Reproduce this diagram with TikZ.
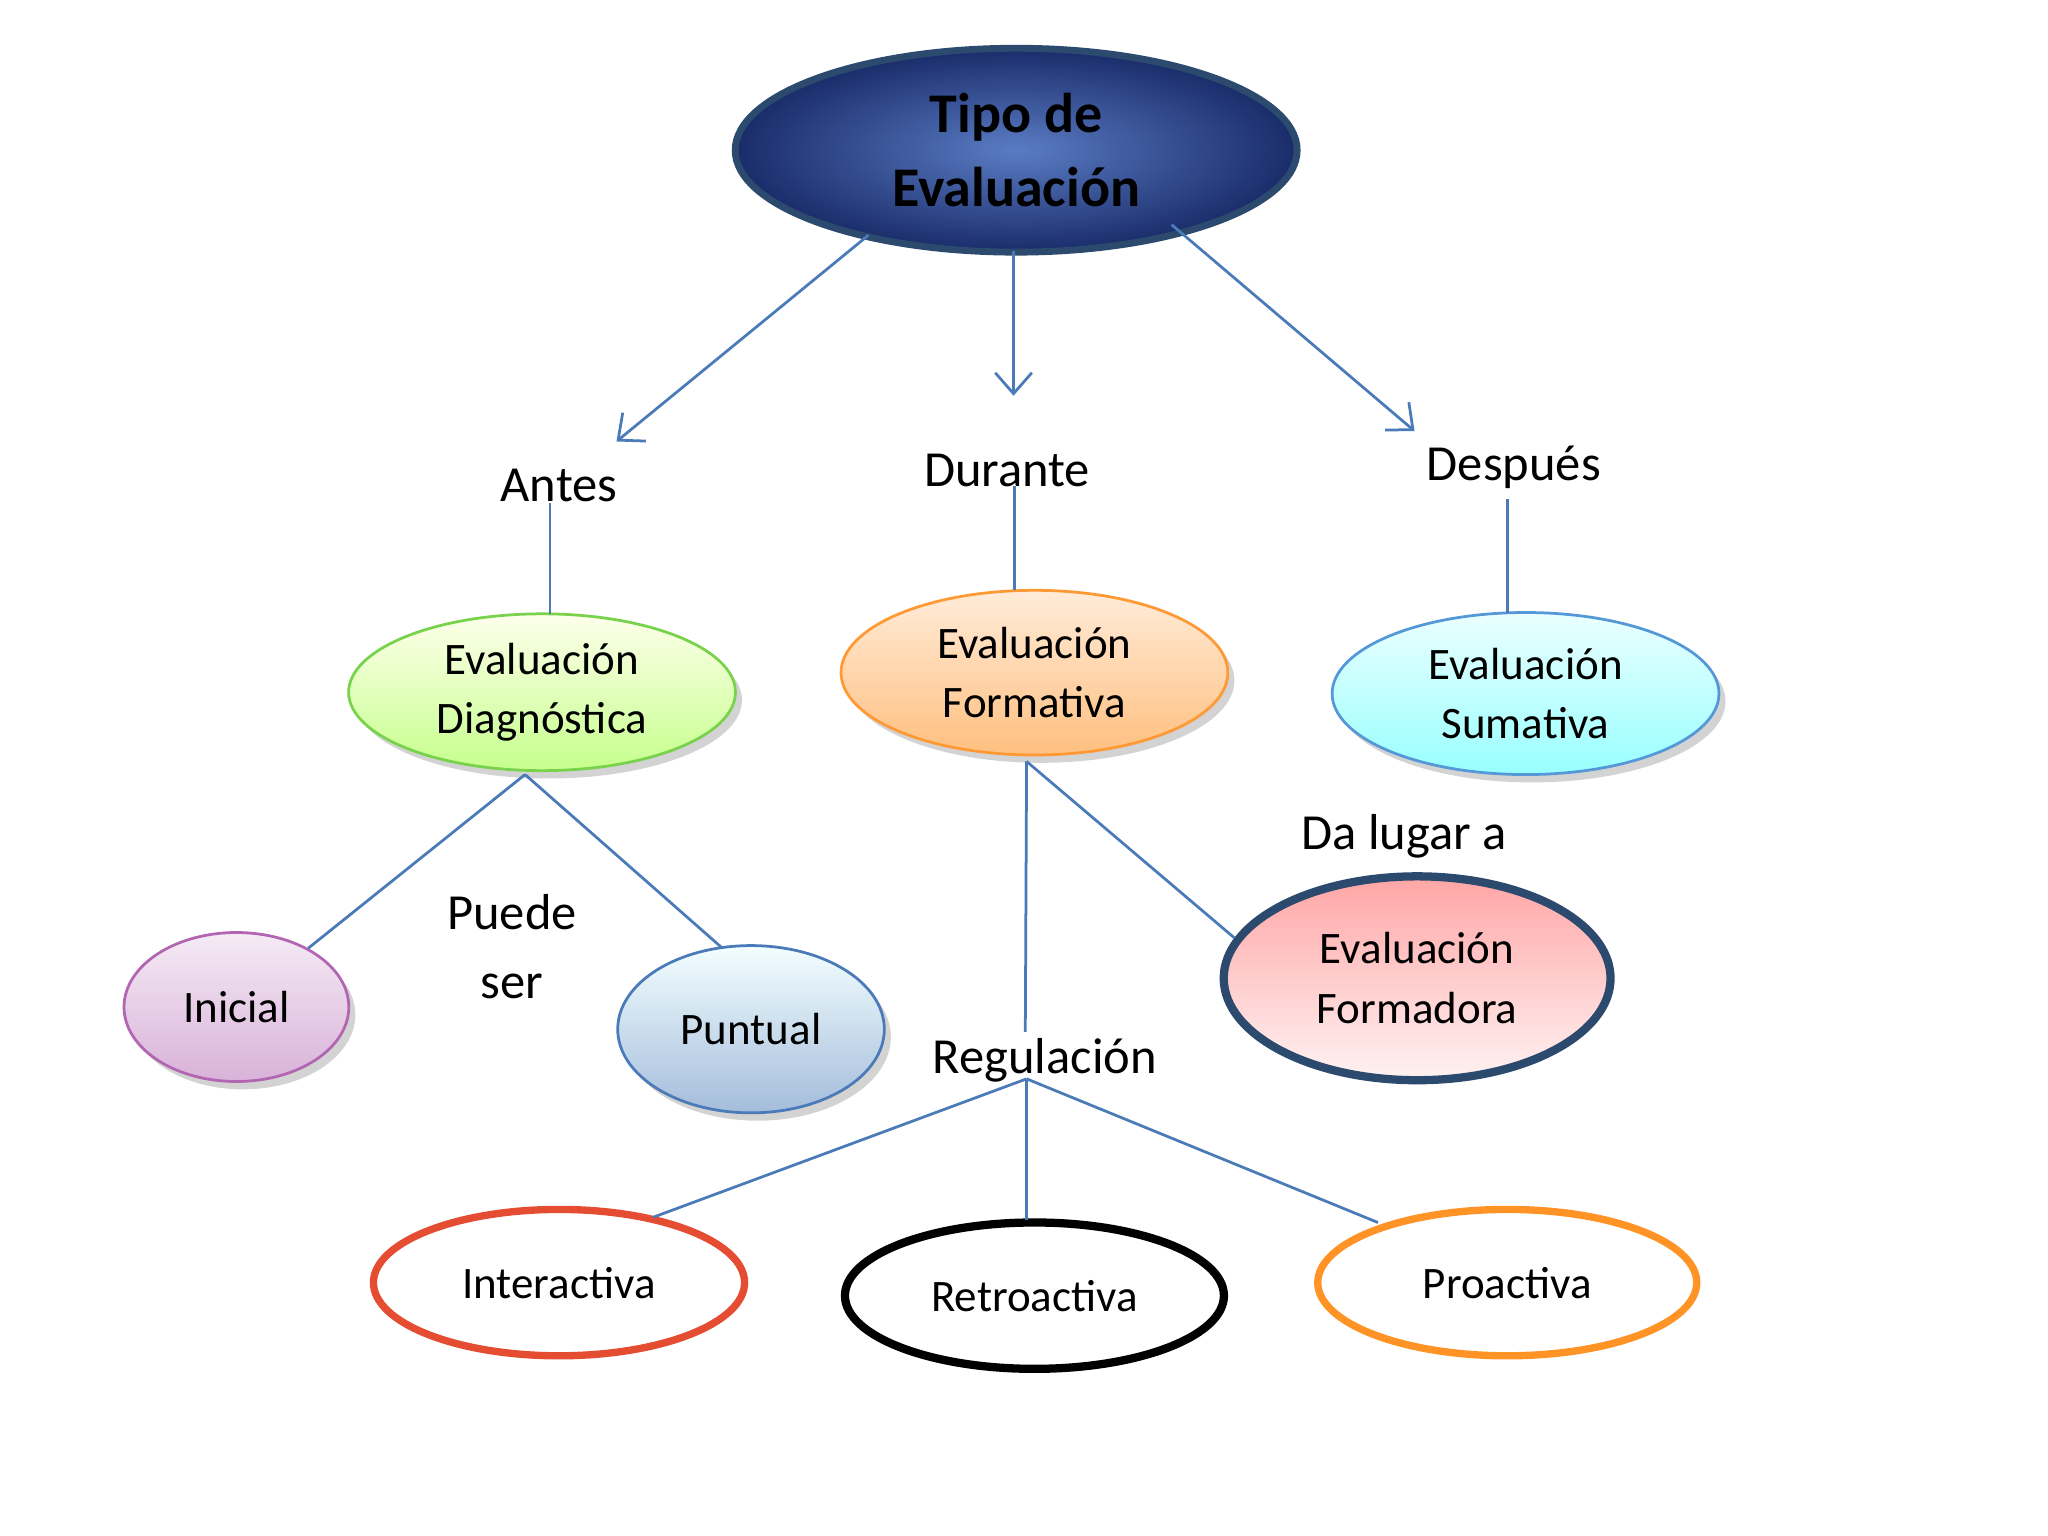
\documentclass[tikz,border=0pt]{standalone}
\usepackage{fontspec}
\setmainfont{Carlito}
\usetikzlibrary{shapes.geometric,shadows,arrows.meta}
\definecolor{ln}{HTML}{4A7AB8}
\definecolor{topin}{HTML}{5A7CC4}
\definecolor{topout}{HTML}{1A2C6A}
\tikzset{
 el/.style={ellipse,draw,line width=0.6pt,align=center,font=\fontsize{9.8}{13}\selectfont,inner sep=0pt},
 sh/.style={drop shadow={shadow xshift=0.05cm,shadow yshift=-0.06cm,opacity=0.35}},
 con/.style={ln,line width=0.6pt},
 arr/.style={con,-{Straight Barb[length=0.16cm,width=0.28cm]}},
 lab/.style={font=\fontsize{11}{15}\selectfont,align=center,inner sep=0pt}
}
\begin{document}
\begin{tikzpicture}[x=0.01cm,y=-0.01cm]
\useasboundingbox (0,0) rectangle (1568,1176);
\node[el,minimum width=4.30cm,minimum height=1.56cm,draw=ln!60!black,line width=1.5pt,inner color=topin,outer color=topout,font=\bfseries\fontsize{12.2}{16}\selectfont] (top) at (778,115) {Tipo de\\Evaluación};
\node[lab] (antes) at (428,372) {Antes};
\node[lab] (durante) at (771,360) {Durante};
\node[lab] (despues) at (1159,358) {Después};
\coordinate (a1) at (665,180); \coordinate (a2) at (472,338);
\coordinate (b1) at (776,192); \coordinate (b2) at (776,303);
\coordinate (c1) at (897,172); \coordinate (c2) at (1083,330);
\draw[arr] (a1) -- (a2); \draw[arr] (b1) -- (b2); \draw[arr] (c1) -- (c2);
\node[el,sh,minimum width=2.96cm,minimum height=1.20cm,draw=green!50!olive!70,top color=green!8!yellow!8,bottom color=green!50!yellow!45] (diag) at (415,530) {Evaluación\\Diagnóstica};
\node[el,sh,minimum width=2.96cm,minimum height=1.26cm,draw=orange!80,top color=orange!15,bottom color=orange!50] (form) at (792,515) {Evaluación\\Formativa};
\node[el,sh,minimum width=2.96cm,minimum height=1.24cm,draw=cyan!60!blue!70,top color=cyan!8,bottom color=cyan!40] (sum) at (1168,531) {Evaluación\\Sumativa};
\draw[con] (421,385) -- (421,470);
\draw[con] (777,372) -- (777,452);
\draw[con] (1154,382) -- (1154,469);
\node[el,sh,minimum width=1.72cm,minimum height=1.14cm,draw=violet!60,top color=violet!8,bottom color=violet!30] (ini) at (181,771) {Inicial};
\node[el,sh,minimum width=2.04cm,minimum height=1.28cm,draw=ln,top color=blue!5!cyan!5,bottom color=ln!50] (pun) at (575,788) {Puntual};
\node[lab] (puede) at (392,725) {Puede\\ser};
\coordinate (d0) at (402,593); \coordinate (d1) at (236,726); \coordinate (d2) at (552,725);
\draw[con] (d0) -- (d1); \draw[con] (d0) -- (d2);
\node[el,minimum width=2.96cm,minimum height=1.56cm,draw=ln!60!black,line width=1.8pt,top color=red!35,bottom color=red!5] (fdora) at (1085,749) {Evaluación\\Formadora};
\node[lab] (dalugar) at (1075,640) {Da lugar a};
\node[lab] (reg) at (800,812) {Regulación};
\coordinate (f0) at (786,583); \coordinate (r0) at (786,826); \coordinate (f2) at (945,718);
\draw[con] (f0) -- (785,790); \draw[con] (f0) -- (f2);
\node[el,minimum width=2.84cm,minimum height=1.12cm,draw=red!55!brown!90,line width=1.6pt] (inter) at (428,982) {Interactiva};
\node[el,minimum width=2.90cm,minimum height=1.12cm,draw=black,line width=1.8pt] (retro) at (792,992) {Retroactiva};
\node[el,minimum width=2.90cm,minimum height=1.12cm,draw=orange!85,line width=1.6pt] (pro) at (1154,982) {Proactiva};
\coordinate (g1) at (500,932); \coordinate (g2) at (786,934); \coordinate (g3) at (1055,936);
\draw[con] (r0) -- (g1); \draw[con] (r0) -- (g2); \draw[con] (r0) -- (g3);
\end{tikzpicture}
\end{document}
